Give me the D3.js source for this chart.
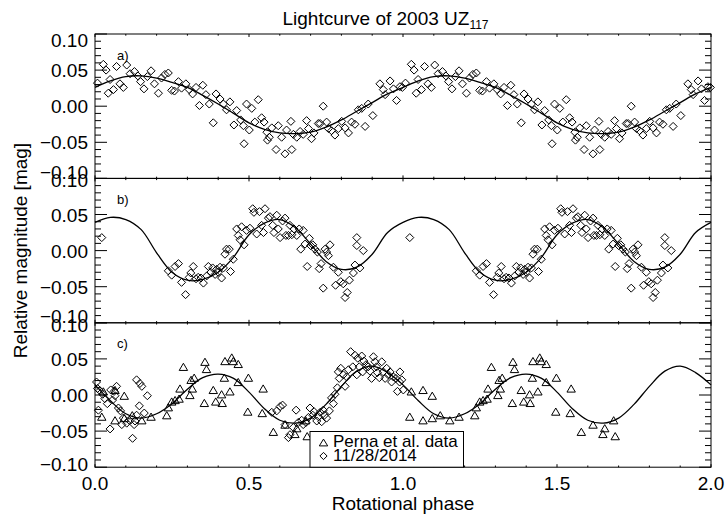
<!DOCTYPE html>
<html><head><meta charset="utf-8">
<script src="https://cdn.jsdelivr.net/npm/d3@7"></script>
<style>
html,body{margin:0;padding:0;background:#fff;}
svg{display:block;font-family:"Liberation Sans",Arial,Helvetica,sans-serif;}
</style>
</head><body>
<svg id="chart" width="726" height="520"></svg>
<script>
// ---------------- data ----------------
const titleMain = "Lightcurve of 2003 UZ";
const titleSub = "117";
const xTitle = "Rotational phase";
const yTitle = "Relative magnitude [mag]";
const phaseTicks = [0, 0.5, 1.0, 1.5, 2.0];
const phaseTickLabels = ["0.0", "0.5", "1.0", "1.5", "2.0"];
const magTicks = [0.10, 0.05, 0.00, -0.05, -0.10];
const magTickLabels = ["0.10", "0.05", "0.00", "\u22120.05", "\u22120.10"];
const panelLabels = ["a)", "b)", "c)"];
const legendLabels = ["Perna et al. data", "11/28/2014"];

// fitted curves, one rotation, sampled every 0.05 in phase (repeated for phase 1-2)
const curvePhase = [0,0.05,0.10,0.15,0.20,0.25,0.30,0.35,0.40,0.45,0.50,0.55,0.60,0.65,0.70,0.75,0.80,0.85,0.90,0.95,1.00];
const curveA = [0.026,0.035,0.041,0.042,0.039,0.033,0.026,0.015,0.003,-0.010,-0.023,-0.032,-0.037,-0.038,-0.036,-0.029,-0.019,-0.007,0.005,0.017,0.026];
const curveB = [0.039,0.046,0.043,0.029,-0.003,-0.030,-0.041,-0.040,-0.030,-0.009,0.022,0.038,0.043,0.032,0.009,-0.015,-0.026,-0.023,-0.005,0.025,0.039];
const curveC = [0.014,-0.008,-0.026,-0.032,-0.026,-0.012,0.008,0.024,0.029,0.023,0.004,-0.019,-0.035,-0.039,-0.032,-0.013,0.012,0.033,0.040,0.031,0.014];

// panel a: 11/28/2014 data (phase, mag) for one rotation, plotted again at phase+1
const panelAPoints = [
[0.008,0.032],[0.027,0.058],[0.036,0.050],[0.043,0.018],[0.049,0.037],[0.060,0.023],[0.070,0.055],[0.081,0.031],[0.092,0.026],[0.103,0.057],[0.114,0.045],[0.128,0.048],[0.139,0.042],[0.148,0.034],[0.159,0.024],[0.170,0.041],[0.182,0.049],[0.193,0.031],[0.206,0.018],[0.216,0.039],[0.227,0.044],[0.238,0.046],[0.249,0.022],[0.258,0.021],[0.271,0.034],[0.281,0.025],[0.295,0.031],[0.306,0.023],[0.317,0.017],[0.328,0.026],[0.339,0.001],[0.350,0.029],[0.360,0.016],[0.371,0.003],[0.384,-0.023],[0.393,0.017],[0.406,0.010],[0.417,0.003],[0.427,-0.005],[0.438,0.006],[0.451,-0.026],[0.460,-0.006],[0.473,-0.019],[0.482,-0.027],[0.484,-0.052],[0.492,0.003],[0.501,-0.033],[0.509,-0.003],[0.519,-0.022],[0.530,0.009],[0.541,-0.016],[0.549,-0.022],[0.558,-0.036],[0.560,-0.047],[0.566,-0.043],[0.574,-0.030],[0.588,-0.060],[0.595,-0.027],[0.606,-0.043],[0.617,-0.066],[0.622,-0.033],[0.636,-0.021],[0.639,-0.060],[0.644,-0.039],[0.655,-0.043],[0.666,-0.035],[0.676,-0.039],[0.687,-0.020],[0.693,-0.031],[0.703,-0.045],[0.711,-0.037],[0.725,-0.024],[0.731,-0.024],[0.741,0.000],[0.752,-0.022],[0.758,-0.031],[0.768,-0.034],[0.779,-0.040],[0.790,-0.031],[0.801,-0.021],[0.812,-0.030],[0.823,-0.037],[0.833,-0.022],[0.844,-0.025],[0.855,-0.005],[0.866,-0.003],[0.877,-0.028],[0.887,0.003],[0.902,-0.013],[0.925,0.031],[0.936,0.023],[0.942,0.016],[0.958,0.035],[0.969,0.024],[0.979,0.008],[0.990,0.027],[0.998,0.026]
];

// panel b: 11/28/2014 data, plotted again at phase+1
const panelBPoints = [
[0.022,0.018],[0.238,-0.028],[0.249,-0.034],[0.260,-0.022],[0.271,-0.018],[0.281,-0.044],[0.294,-0.061],[0.306,-0.037],[0.311,-0.031],[0.319,-0.022],[0.328,-0.039],[0.335,-0.037],[0.344,-0.038],[0.352,-0.045],[0.363,-0.035],[0.368,-0.022],[0.376,-0.030],[0.382,-0.024],[0.390,-0.033],[0.395,-0.026],[0.400,-0.030],[0.406,-0.023],[0.411,-0.038],[0.417,-0.024],[0.422,-0.005],[0.427,0.002],[0.436,0.002],[0.440,-0.029],[0.449,-0.012],[0.460,0.030],[0.465,0.021],[0.471,0.015],[0.476,0.033],[0.484,0.008],[0.492,0.028],[0.503,0.031],[0.512,0.058],[0.516,0.053],[0.525,0.023],[0.534,0.054],[0.541,0.035],[0.547,0.025],[0.552,0.058],[0.563,0.045],[0.568,0.047],[0.577,0.035],[0.581,0.025],[0.590,0.049],[0.595,0.030],[0.601,0.018],[0.609,0.041],[0.617,0.045],[0.620,0.021],[0.628,0.021],[0.633,0.035],[0.639,0.022],[0.646,0.030],[0.655,0.021],[0.663,0.030],[0.668,0.002],[0.676,0.028],[0.682,0.009],[0.689,-0.022],[0.696,0.017],[0.700,0.007],[0.707,0.008],[0.714,0.002],[0.722,-0.002],[0.728,-0.025],[0.734,-0.018],[0.741,-0.052],[0.747,0.002],[0.752,-0.002],[0.758,-0.007],[0.763,0.008],[0.774,-0.023],[0.781,-0.048],[0.790,-0.030],[0.798,-0.043],[0.806,-0.046],[0.812,-0.065],[0.819,-0.058],[0.826,-0.041],[0.839,-0.031],[0.844,-0.020],[0.850,0.018],[0.850,0.007],[0.860,-0.024],[0.871,0.000]
];

// panel c: Perna et al. data (triangles), plotted at phase and phase+1
const panelCPerna = [
[0.027,0.005],[0.022,-0.030],[0.065,-0.035],[0.065,0.007],[0.095,-0.032],[0.095,-0.001],[0.121,-0.028],[0.152,-0.035],[0.182,-0.030],[0.233,-0.028],[0.238,-0.017],[0.249,-0.009],[0.260,-0.007],[0.273,-0.005],[0.276,0.009],[0.287,0.039],[0.308,0.000],[0.312,0.021],[0.316,0.009],[0.322,0.024],[0.355,-0.011],[0.357,0.046],[0.362,0.036],[0.384,0.007],[0.392,-0.009],[0.411,0.001],[0.413,-0.011],[0.420,0.024],[0.422,0.047],[0.438,0.005],[0.444,0.052],[0.449,0.047],[0.465,0.043],[0.465,0.018],[0.496,-0.023],[0.498,0.024],[0.543,-0.025],[0.546,0.009],[0.579,-0.051],[0.617,-0.041],[0.649,-0.054],[0.655,-0.046],[0.684,-0.035],[0.689,-0.057]
];
// panel c: 11/28/2014 data (diamonds), as plotted
const panelCNew = [
[0.005,0.018],[0.008,0.009],[0.011,-0.021],[0.016,0.006],[0.025,0.001],[0.032,-0.005],[0.040,-0.012],[0.049,-0.047],[0.051,0.007],[0.057,-0.007],[0.062,0.005],[0.065,-0.001],[0.070,0.012],[0.076,-0.018],[0.083,-0.022],[0.087,-0.041],[0.092,-0.032],[0.103,-0.039],[0.111,-0.035],[0.122,-0.060],[0.127,-0.041],[0.130,-0.036],[0.135,-0.028],[0.135,0.021],[0.144,-0.015],[0.146,0.016],[0.152,0.012],[0.160,-0.025],[0.170,-0.001],
[0.574,-0.024],[0.590,-0.022],[0.601,-0.016],[0.609,-0.014],[0.617,-0.041],[0.628,-0.059],[0.633,-0.055],[0.644,-0.045],[0.653,-0.021],[0.660,-0.038],[0.671,-0.035],[0.676,-0.041],[0.685,-0.038],[0.693,-0.031],[0.698,-0.018],[0.707,-0.028],[0.711,-0.023],[0.720,-0.036],[0.725,-0.030],[0.731,-0.024],[0.736,-0.037],[0.741,-0.021],[0.745,-0.028],[0.752,-0.032],[0.761,-0.022],[0.768,-0.004],[0.774,-0.012],[0.779,0.001],[0.787,0.010],[0.790,0.032],[0.793,0.023],[0.798,0.037],[0.806,0.028],[0.812,0.012],[0.817,0.025],[0.823,0.035],[0.830,0.060],[0.837,0.039],[0.844,0.055],[0.850,0.028],[0.853,0.051],[0.858,0.039],[0.866,0.054],[0.869,0.032],[0.873,0.047],[0.880,0.042],[0.887,0.039],[0.893,0.033],[0.898,0.023],[0.904,0.053],[0.909,0.046],[0.914,0.039],[0.917,0.031],[0.923,0.024],[0.931,0.046],[0.936,0.032],[0.942,0.023],[0.947,0.037],[0.952,0.028],[0.958,0.032],[0.963,0.018],[0.969,0.025],[0.977,0.023],[0.982,0.005],[0.989,0.018],[0.990,0.032],[0.996,0.021],[1.001,0.007]
];

// ---------------- drawing ----------------
const svg = d3.select("#chart");
const L = 95, R = 711, T = 34, PH = 144.4;
const FONT = 19;
const x = d3.scaleLinear().domain([0, 2]).range([L, R]);

const twoCycles = pts => pts.concat(pts.map(d => [d[0] + 1, d[1]])).filter(d => d[0] <= 2);
const curvePts = vals => curvePhase.map((p, i) => [p, vals[i]])
  .concat(curvePhase.slice(1).map((p, i) => [p + 1, vals[i + 1]]));

const panels = [
  {label: panelLabels[0], curve: curveA, diamonds: twoCycles(panelAPoints), triangles: []},
  {label: panelLabels[1], curve: curveB, diamonds: twoCycles(panelBPoints), triangles: []},
  {label: panelLabels[2], curve: curveC, diamonds: panelCNew, triangles: twoCycles(panelCPerna)}
];

const diamondPath = (cx, cy, r) => `M${cx},${cy - r}L${cx + r},${cy}L${cx},${cy + r}L${cx - r},${cy}Z`;
const trianglePath = (cx, cy, w, h) => `M${cx},${cy - h}L${cx + w},${cy + h}L${cx - w},${cy + h}Z`;

const minorX = d3.range(0, 21).map(i => i / 10);
const minorY = d3.range(-10, 11).map(i => i / 100);

panels.forEach((p, k) => {
  const top = T + k * PH, bot = top + PH;
  const y = d3.scaleLinear().domain([-0.1, 0.1]).range([bot, top]);
  const g = svg.append("g");

  // ticks (inward)
  const tickG = g.append("g").attr("stroke", "#000").attr("stroke-width", 1);
  minorX.forEach(v => {
    const major = Math.abs(v * 2 - Math.round(v * 2)) < 1e-9;
    const len = major ? 3 : 1.7;
    tickG.append("line").attr("x1", x(v)).attr("x2", x(v)).attr("y1", bot).attr("y2", bot - len);
    tickG.append("line").attr("x1", x(v)).attr("x2", x(v)).attr("y1", top).attr("y2", top + len);
  });
  minorY.forEach(v => {
    const major = Math.abs(v * 20 - Math.round(v * 20)) < 1e-9;
    const len = major ? 12 : 6;
    tickG.append("line").attr("x1", L).attr("x2", L + len).attr("y1", y(v)).attr("y2", y(v));
    tickG.append("line").attr("x1", R).attr("x2", R - len).attr("y1", y(v)).attr("y2", y(v));
  });

  // frame
  g.append("rect").attr("x", L).attr("y", top).attr("width", R - L).attr("height", PH)
    .attr("fill", "none").attr("stroke", "#000").attr("stroke-width", 1);

  // y tick labels
  magTicks.forEach((v, i) => {
    let off = 7;
    if (i === 0) off = (k === 0) ? 12.5 : 9;
    if (i === magTicks.length - 1) off = (k === 2) ? 3.5 : 0.5;
    g.append("text").attr("x", 88).attr("y", y(v) + off)
      .attr("text-anchor", "end").attr("font-size", FONT).attr("fill", "#000")
      .text(magTickLabels[i]);
  });

  // curve
  g.append("path").datum(curvePts(p.curve))
    .attr("d", d3.line().x(d => x(d[0])).y(d => y(d[1])).curve(d3.curveCatmullRom.alpha(0.5)))
    .attr("fill", "none").attr("stroke", "#000").attr("stroke-width", 1.3);

  // points
  g.append("g").selectAll("path.dia").data(p.diamonds).join("path")
    .attr("d", d => diamondPath(x(d[0]), y(d[1]), 4))
    .attr("fill", "none").attr("stroke", "#000").attr("stroke-width", 1);
  g.append("g").selectAll("path.tri").data(p.triangles).join("path")
    .attr("d", d => trianglePath(x(d[0]), y(d[1]), 4.2, 3.6))
    .attr("fill", "none").attr("stroke", "#000").attr("stroke-width", 1);

  // panel label
  g.append("text").attr("x", 117).attr("y", top + 25.5).attr("font-size", 13).attr("fill", "#000").text(p.label);

  if (k === 2) {
    // x tick labels
    phaseTicks.forEach((v, i) => {
      g.append("text").attr("x", x(v)).attr("y", 490).attr("text-anchor", "middle")
        .attr("font-size", FONT).attr("fill", "#000").text(phaseTickLabels[i]);
    });
    // legend
    const lx = 310, ly = 431.5, lw = 153.5, lh = bot - 431.5;
    const lg = g.append("g");
    lg.append("rect").attr("x", lx).attr("y", ly).attr("width", lw).attr("height", lh)
      .attr("fill", "#fff").attr("stroke", "#000").attr("stroke-width", 1);
    lg.append("path").attr("d", trianglePath(323.5, 442.5, 4.2, 3.4)).attr("fill", "none").attr("stroke", "#000");
    lg.append("path").attr("d", diamondPath(323.5, 456, 3.6)).attr("fill", "none").attr("stroke", "#000");
    lg.append("text").attr("x", 333).attr("y", 447).attr("font-size", 17).attr("fill", "#000").text(legendLabels[0]);
    lg.append("text").attr("x", 333).attr("y", 461).attr("font-size", 17).attr("fill", "#000").text(legendLabels[1]);
  }
});

// title
const title = svg.append("text").attr("x", 385.5).attr("y", 25).attr("text-anchor", "middle")
  .attr("font-size", FONT).attr("fill", "#000");
title.append("tspan").text(titleMain);
title.append("tspan").attr("font-size", 12).attr("dy", 3.5).text(titleSub);

// axis titles
svg.append("text").attr("x", (L + R) / 2).attr("y", 510).attr("text-anchor", "middle")
  .attr("font-size", FONT).attr("fill", "#000").text(xTitle);
svg.append("text").attr("transform", `translate(27,${T + 1.5 * PH}) rotate(-90)`)
  .attr("text-anchor", "middle").attr("font-size", FONT).attr("fill", "#000").text(yTitle);
</script>
</body></html>
